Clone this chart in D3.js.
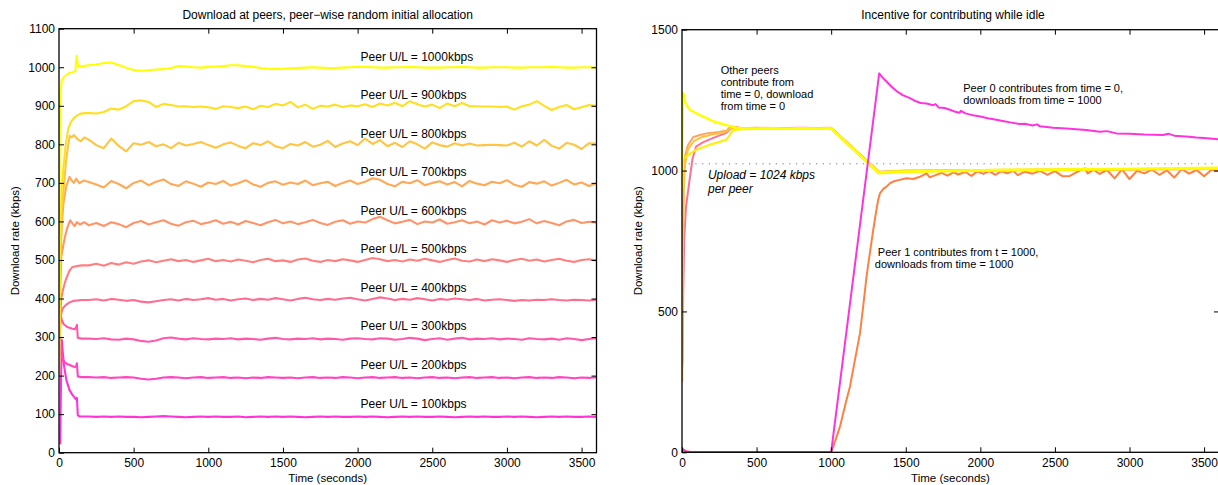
<!DOCTYPE html>
<html><head><meta charset="utf-8">
<script src="https://cdn.jsdelivr.net/npm/d3@7/dist/d3.min.js"></script>
<style>
body{margin:0;background:#fff;}
svg{display:block;font-family:"Liberation Sans",Arial,Helvetica,sans-serif;}
</style></head>
<body><svg id="c" width="1218" height="485"></svg>
<script>
// ---------------- DATA ----------------
const steadyTimes = [200,250,300,350,400,450,500,550,600,650,700,750,800,850,900,950,1000,1050,1100,1150,1200,1250,1300,1350,1400,1450,1500,1550,1600,1650,1700,1750,1800,1850,1900,1950,2000,2050,2100,2150,2200,2250,2300,2350,2400,2450,2500,2550,2600,2650,2700,2750,2800,2850,2900,2950,3000,3050,3100,3150,3200,3250,3300,3350,3400,3450,3500,3550,3600];

const peerRates = [100,200,300,400,500,600,700,800,900,1000];
const peerLabels = ["Peer U/L = 100kbps","Peer U/L = 200kbps","Peer U/L = 300kbps","Peer U/L = 400kbps","Peer U/L = 500kbps","Peer U/L = 600kbps","Peer U/L = 700kbps","Peer U/L = 800kbps","Peer U/L = 900kbps","Peer U/L = 1000kbps"];

// start-up transients [time, kbps]
const start100 = [[8,22],[14,200],[19,292],[25,262],[35,222],[50,188],[70,163],[90,150],[105,143],[115,138],[120,142],[126,97],[140,94],[170,94]];
const start200 = [[4,250],[9,300],[15,270],[22,245],[35,236],[55,230],[80,226],[105,222],[115,224],[120,232],[126,198],[150,196]];
const start300 = [[4,280],[9,365],[18,345],[30,334],[55,326],[85,322],[105,320],[115,326],[120,332],[126,298],[150,296]];
const start400 = [[3,250],[8,330],[15,362],[25,374],[45,383],[70,390],[100,394],[150,396]];
const start500 = [[3,230],[8,350],[15,400],[28,425],[45,448],[70,472],[90,482],[120,484],[150,486]];
const start600 = [[3,260],[8,430],[15,510],[25,530],[40,560],[55,583],[75,603],[90,595],[105,588],[120,598],[140,592],[170,598]];
const start700 = [[2,280],[8,480],[18,590],[30,648],[48,690],[70,716],[85,706],[100,700],[115,711],[135,699],[165,706]];
const start800 = [[2,300],[8,500],[18,620],[30,680],[48,760],[62,800],[72,822],[85,818],[100,824],[120,815],[145,808],[170,818]];
const start900 = [[2,300],[8,560],[18,690],[30,740],[45,800],[62,840],[80,858],[100,868],[118,874],[140,879],[170,881]];
const start1000 = [[1,200],[3,600],[5,820],[10,930],[18,965],[35,976],[62,984],[90,987],[110,990],[118,1030],[125,1010],[135,1001],[160,1003]];

// steady state values on steadyTimes
const steady100 = [94,93,94,93,94,93,93,92,93,94,95,94,93,92,93,94,93,94,93,93,94,92,93,94,93,94,93,94,93,92,93,94,93,94,93,93,94,93,94,93,92,93,94,93,94,93,93,94,93,92,93,94,93,94,93,93,94,93,94,93,92,93,94,93,94,93,93,94,93];
const steady200 = [196,195,196,194,195,196,195,192,190,192,195,196,195,193,195,196,194,195,196,194,195,193,195,194,196,195,194,195,193,195,196,194,195,194,196,195,193,195,196,194,195,196,194,195,193,195,196,194,195,193,195,196,194,195,196,194,195,193,195,196,194,195,194,196,195,193,195,194,196];
const steady300 = [296,295,297,294,293,296,294,290,288,291,297,299,296,294,297,295,294,296,295,297,294,296,295,293,296,298,295,294,296,295,297,294,296,295,293,296,297,295,294,297,296,293,295,298,296,292,295,297,293,296,298,294,296,295,297,294,296,295,293,297,295,294,296,293,297,295,292,295,297];
const steady400 = [396,398,395,399,397,394,396,392,390,393,396,398,395,399,396,398,401,397,399,395,398,400,396,399,397,401,398,395,399,402,398,396,399,397,400,402,398,395,399,403,400,396,399,397,401,398,395,399,397,400,398,396,399,395,397,398,396,394,396,395,397,396,398,396,395,397,396,395,397];
const steady500 = [486,490,485,492,488,494,490,496,499,494,498,502,497,500,495,499,503,497,500,496,501,498,494,500,503,497,499,495,501,504,498,495,500,497,502,499,495,500,505,502,497,500,496,501,498,503,499,495,500,504,498,496,501,497,502,499,495,500,503,498,501,496,500,503,498,495,500,502,499];
const steady600 = [590,596,588,598,593,585,596,601,592,598,603,594,589,598,602,593,597,603,594,599,592,601,596,590,598,604,595,600,593,598,604,596,591,599,603,594,600,597,606,612,603,595,599,604,593,600,597,605,594,598,603,595,600,592,603,597,602,595,599,606,595,601,596,590,600,604,596,599,597];
const steady700 = [702,696,688,705,697,686,700,706,694,703,709,697,692,704,698,690,701,697,705,693,699,707,696,690,700,704,695,701,697,706,694,699,703,692,700,706,697,703,712,708,697,691,703,699,707,694,700,704,696,702,691,705,698,694,703,699,707,695,690,702,698,704,693,700,708,696,701,692,699];
const steady800 = [812,798,790,815,796,782,803,799,806,795,800,790,804,797,801,806,798,791,800,805,796,790,803,798,808,795,790,801,797,806,794,799,809,793,802,808,798,815,801,811,795,804,793,808,800,789,805,798,794,803,797,802,797,798,799,798,797,804,794,808,797,812,796,789,804,799,788,803,802];
const steady900 = [881,880,884,893,890,899,912,914,910,897,905,902,898,899,897,898,896,892,899,897,894,898,891,900,897,905,901,910,896,903,892,900,898,903,897,901,899,904,897,906,901,908,899,912,904,898,903,894,906,899,907,899,899,898,898,897,898,890,899,903,912,900,889,897,902,891,896,902,900];
const steady1000 = [1005,1007,1011,1012,1006,999,993,991,992,994,995,998,1003,1002,1000,999,1001,1002,1003,1005,1005,1003,1001,998,996,995,996,997,998,999,1000,999,998,998,999,1000,1001,1001,1000,999,999,1000,1000,1001,1000,999,999,999,1000,1000,1001,1000,999,999,1000,1000,1000,999,999,1000,1000,1000,1001,1000,999,999,1000,1000,999];

const leftStarts = [start100,start200,start300,start400,start500,start600,start700,start800,start900,start1000];
const leftSteady = [steady100,steady200,steady300,steady400,steady500,steady600,steady700,steady800,steady900,steady1000];
const leftXTicks = [0,500,1000,1500,2000,2500,3000,3500];
const leftYTicks = [0,100,200,300,400,500,600,700,800,900,1000,1100];

// right chart [time, kbps]
const peer0 = [[0,0],[5,12],[12,8],[25,3],[50,2],[100,1],[500,1],[1000,1],[1322,1345],[1345,1330],[1371,1316],[1400,1300],[1438,1282],[1480,1268],[1528,1257],[1560,1248],[1600,1240],[1640,1238],[1683,1232],[1700,1236],[1720,1224],[1760,1222],[1796,1216],[1830,1209],[1860,1205],[1870,1212],[1900,1203],[1952,1196],[2000,1192],[2050,1186],[2108,1180],[2150,1176],[2200,1171],[2265,1165],[2300,1166],[2350,1160],[2380,1164],[2400,1157],[2488,1152],[2550,1150],[2600,1148],[2711,1144],[2800,1138],[2850,1140],[2912,1132],[3000,1131],[3100,1128],[3225,1126],[3260,1131],[3300,1124],[3400,1120],[3449,1117],[3520,1115],[3600,1111]];
const peer1 = [[0,0],[5,10],[15,8],[30,3],[60,1],[1000,1],[1014,20],[1059,91],[1100,180],[1126,233],[1160,330],[1193,422],[1215,520],[1237,623],[1260,710],[1282,789],[1300,850],[1315,896],[1327,919],[1350,935],[1371,943],[1395,955],[1416,961],[1450,966],[1505,973],[1550,970],[1595,978],[1620,985],[1640,990],[1660,976],[1700,984],[1740,992],[1780,982],[1820,994],[1850,986],[1900,995],[1940,981],[1980,997],[2020,988],[2060,998],[2100,985],[2140,997],[2180,990],[2220,999],[2250,984],[2300,996],[2350,989],[2400,999],[2450,985],[2500,998],[2550,980],[2600,981],[2650,995],[2700,1008],[2720,990],[2760,1003],[2800,988],[2850,1002],[2900,972],[2950,1004],[3000,970],[3050,999],[3100,990],[3150,1003],[3200,985],[3250,1001],[3300,975],[3350,1005],[3400,989],[3450,1002],[3500,980],[3550,1003],[3600,1000]];
const otherA = [[0,940],[6,1275],[12,1270],[20,1245],[35,1228],[54,1215],[80,1208],[121,1197],[150,1190],[188,1180],[220,1173],[255,1168],[290,1162],[322,1158],[360,1152],[400,1150],[500,1149],[600,1150],[700,1148],[800,1150],[900,1149],[1000,1150],[1320,993],[1400,996],[1500,997],[1700,999],[1900,1000],[2100,1002],[2300,1003],[2500,1004],[2700,1005],[2900,1006],[3100,1007],[3300,1008],[3600,1010]];
const otherB = [[0,930],[4,1000],[10,1045],[27,1049],[60,1062],[94,1074],[140,1083],[183,1091],[240,1100],[295,1109],[320,1125],[340,1143],[400,1147],[600,1148],[800,1149],[1000,1148],[1320,990],[1500,995],[2000,999],[2500,1002],[3000,1004],[3600,1006]];
const otherC = [[2,300],[6,780],[12,980],[20,1050],[40,1090],[74,1118],[120,1126],[165,1132],[250,1137],[300,1142],[330,1157],[360,1153],[400,1150],[500,1152],[700,1150],[900,1151],[1000,1152],[1320,996],[1500,1000],[2000,1002],[2500,1004],[3000,1006],[3600,1008]];
const otherD = [[2,250],[6,700],[12,930],[20,1020],[40,1075],[80,1105],[130,1118],[200,1128],[280,1135],[330,1150],[400,1151],[600,1149],[800,1151],[1000,1150],[1320,994],[1500,998],[2000,1001],[2500,1003],[3000,1005],[3600,1007]];
const otherE = [[3,317],[8,560],[15,760],[27,872],[49,960],[70,1040],[94,1085],[140,1100],[183,1110],[240,1122],[295,1133],[340,1155],[400,1151],[600,1150],[800,1152],[1000,1150],[1320,995],[1500,998],[2000,1000],[2500,1002],[3000,1004],[3600,1006]];
const uploadRate = 1024;
const rightXTicks = [0,500,1000,1500,2000,2500,3000,3500];
const rightYTicks = [0,500,1000,1500];

// ---------------- STYLE ----------------
const leftColors = ["#ff33d6","#ff45c0","#ff5aaa","#ff6e92","#ff8080","#ff9468","#ffa855","#ffc442","#ffdf22","#ffff00"];
const FONT = '"Liberation Sans",Arial,Helvetica,sans-serif';

const svg = d3.select("#c");

function frame(g, x, y, xt, yt) {
  const [x0,x1] = x.range(), [y0,y1] = y.range();
  const ax = (sel)=>sel.selectAll(".domain").remove();
  g.append("g").attr("transform",`translate(0,${y0})`)
    .call(d3.axisBottom(x).tickValues(xt).tickSize(-5).tickPadding(6).tickFormat(d3.format("d"))).call(ax);
  g.append("g").attr("transform",`translate(0,${y1})`)
    .call(d3.axisTop(x).tickValues(xt.filter(d=>d>0)).tickSize(-5).tickFormat("")).call(ax);
  g.append("g").attr("transform",`translate(${x0},0)`)
    .call(d3.axisLeft(y).tickValues(yt).tickSize(-5).tickPadding(4).tickFormat(d3.format("d"))).call(ax);
  g.append("g").attr("transform",`translate(${x1},0)`)
    .call(d3.axisRight(y).tickValues(yt.filter(d=>d>0 && d<y.domain()[1])).tickSize(-5).tickFormat("")).call(ax);
  g.selectAll(".tick text").attr("font-size",12).attr("font-family",FONT).attr("fill","#000");
  g.selectAll(".tick line").attr("stroke","#000");
  g.append("rect").attr("x",x0).attr("y",y1).attr("width",x1-x0).attr("height",y0-y1)
    .attr("fill","none").attr("stroke","#000").attr("stroke-width",1.3);
}

// ---------------- LEFT ----------------
const xL = d3.scaleLinear([0,3600],[59,596.5]);
const yL = d3.scaleLinear([0,1100],[452.7,28.7]);
const gL = svg.append("g");
svg.append("clipPath").attr("id","clipL").append("rect")
  .attr("x",59).attr("y",28.7).attr("width",596.5-59).attr("height",452.7-28.7);
const lineL = d3.line().x(d=>xL(d[0])).y(d=>yL(d[1]));
const gLines = gL.append("g").attr("clip-path","url(#clipL)");
peerRates.forEach((r,i)=>{
  const pts = leftStarts[i].concat(steadyTimes.map((t,j)=>[t,leftSteady[i][j]]));
  gLines.append("path").datum(pts).attr("d",lineL).attr("fill","none")
    .attr("stroke",leftColors[i]).attr("stroke-width",2.1).attr("stroke-linejoin","round");
});
frame(gL, xL, yL, leftXTicks, leftYTicks);
gL.selectAll(null).data(peerRates).join("text")
  .attr("x",xL(2020)).attr("y",d=>yL(d+28)).attr("dy","0.35em")
  .attr("font-size",12).attr("font-family",FONT).text((d,i)=>peerLabels[i]);
gL.append("text").attr("x",327.7).attr("y",19).attr("text-anchor","middle")
  .attr("font-size",12).attr("font-family",FONT).text("Download at peers, peer\u2212wise random initial allocation");
gL.append("text").attr("x",327.7).attr("y",481.5).attr("text-anchor","middle")
  .attr("font-size",11.5).attr("font-family",FONT).text("Time (seconds)");
gL.append("text").attr("transform","translate(19,240.7) rotate(-90)").attr("text-anchor","middle")
  .attr("font-size",11.5).attr("font-family",FONT).text("Download rate (kbps)");

// ---------------- RIGHT ----------------
const xR = d3.scaleLinear([0,3600],[682,1219]);
const yR = d3.scaleLinear([0,1500],[452.3,29.7]);
const gR = svg.append("g");
svg.append("clipPath").attr("id","clipR").append("rect")
  .attr("x",682).attr("y",29.7).attr("width",1219-682).attr("height",452.3-29.7);
const lineR = d3.line().x(d=>xR(d[0])).y(d=>yR(d[1]));
const gRL = gR.append("g").attr("clip-path","url(#clipR)");
gRL.append("line").attr("x1",xR(0)).attr("x2",xR(3600)).attr("y1",yR(uploadRate)).attr("y2",yR(uploadRate))
  .attr("stroke","#777").attr("stroke-width",1).attr("stroke-dasharray","1.2,5.5");
const rightSeries = [
  {d:otherE,c:"#ff7096",w:2},
  {d:otherC,c:"#ffa45a",w:2},
  {d:otherD,c:"#ffc23c",w:2},
  {d:peer1,c:"#ff8040",w:2},
  {d:otherB,c:"#ffee10",w:2.2},
  {d:otherA,c:"#ffff00",w:2.4},
  {d:peer0,c:"#ff33dd",w:2}
];
rightSeries.forEach(s=>{
  gRL.append("path").datum(s.d).attr("d",lineR).attr("fill","none")
    .attr("stroke",s.c).attr("stroke-width",s.w).attr("stroke-linejoin","round");
});
frame(gR, xR, yR, rightXTicks, rightYTicks);
gR.append("text").attr("x",953).attr("y",19).attr("text-anchor","middle")
  .attr("font-size",12).attr("font-family",FONT).text("Incentive for contributing while idle");
gR.append("text").attr("x",950.5).attr("y",481.5).attr("text-anchor","middle")
  .attr("font-size",11.5).attr("font-family",FONT).text("Time (seconds)");
gR.append("text").attr("transform","translate(641.5,240.7) rotate(-90)").attr("text-anchor","middle")
  .attr("font-size",11.5).attr("font-family",FONT).text("Download rate (kbps)");

function multi(g, t, v, lines, opts={}) {
  const tx = g.append("text").attr("x",xR(t)).attr("y",yR(v)).attr("dy","0.35em")
    .attr("font-size",opts.size||11).attr("font-family",FONT);
  if (opts.italic) tx.attr("font-style","italic");
  lines.forEach((s,i)=>tx.append("tspan").attr("x",xR(t)+(opts.dx?opts.dx[i]:0)).attr("dy",i===0?"0.35em":(opts.lh||12.2)).text(s));
}
multi(gR, 259, 1357, ["Other peers","contribute from","time = 0, download","from time = 0"]);
multi(gR, 174, 984, ["Upload = 1024 kbps","per peer"], {italic:true, size:12, lh:13.7});
multi(gR, 1885, 1293, ["Peer 0 contributes from time = 0,","downloads from time = 1000"], {lh:12});
multi(gR, 1313, 710, ["Peer 1 contributes from t = 1000,","downloads from time = 1000"], {lh:11.8, dx:[0,-3]});
</script>
</body></html>
